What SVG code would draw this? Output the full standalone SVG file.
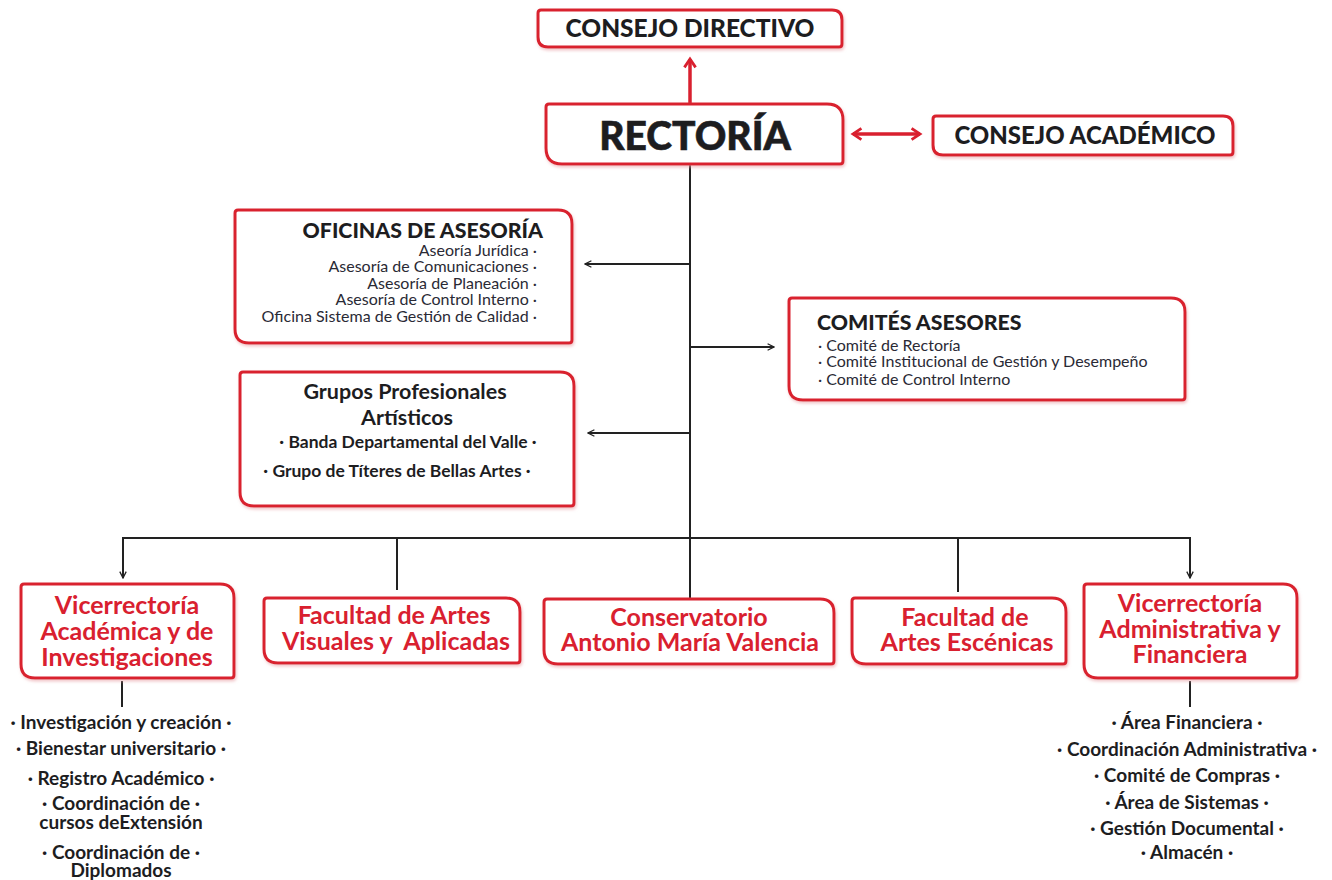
<svg xmlns="http://www.w3.org/2000/svg" width="1332" height="880" viewBox="0 0 1332 880">
<style>
.box{fill:#fff;stroke:#d9202f;stroke-width:3;filter:url(#sh)}
.t{font-family:Lato,"Liberation Sans",sans-serif;font-weight:700;fill:#1d1d1f}
.h{font-family:Lato,"Liberation Sans",sans-serif;font-weight:900;fill:#1d1d1f}
.r{font-family:Lato,"Liberation Sans",sans-serif;font-weight:700;fill:#d9202f;font-size:25px;text-anchor:middle}
.s{font-family:Lato,"Liberation Sans",sans-serif;font-weight:400;fill:#2a2a35;font-size:16px}
.l{font-family:Lato,"Liberation Sans",sans-serif;font-weight:700;fill:#1d1d1f;font-size:19px;text-anchor:middle}
.k{fill:none;stroke:#222;stroke-width:2}
.rd{fill:none;stroke:#d9202f;stroke-width:3.5}
</style>
<defs>
<filter id="sh" x="-5%" y="-10%" width="110%" height="125%">
<feDropShadow dx="1" dy="2" stdDeviation="1.5" flood-color="#e8a0a6" flood-opacity="0.6"/>
</filter>
<marker id="ak" viewBox="0 0 10 10" refX="9" refY="5" markerWidth="8" markerHeight="8" markerUnits="userSpaceOnUse" orient="auto-start-reverse">
<path d="M1,1 L9,5 L1,9" fill="none" stroke="#222" stroke-width="1.6"/>
</marker>
<marker id="ar" viewBox="0 0 10 10" refX="8" refY="5" markerWidth="14" markerHeight="14" markerUnits="userSpaceOnUse" orient="auto-start-reverse">
<path d="M2,1 L8,5 L2,9" fill="none" stroke="#d9202f" stroke-width="2"/>
</marker>
</defs>
<rect width="1332" height="880" fill="#fff"/>

<g id="connectors">
<line class="rd" x1="690" y1="103" x2="690" y2="59" marker-end="url(#ar)"/>
<line class="rd" x1="853" y1="134" x2="920" y2="134" marker-start="url(#ar)" marker-end="url(#ar)"/>
<line class="k" x1="690" y1="165" x2="690" y2="598"/>
<line class="k" x1="690" y1="264" x2="585" y2="264" marker-end="url(#ak)"/>
<line class="k" x1="690" y1="347" x2="774" y2="347" marker-end="url(#ak)"/>
<line class="k" x1="690" y1="433" x2="588" y2="433" marker-end="url(#ak)"/>
<polyline class="k" points="123,577 123,538 1190,538 1190,577"/>
<line class="k" x1="123" y1="570" x2="123" y2="578" marker-end="url(#ak)"/>
<line class="k" x1="1190" y1="570" x2="1190" y2="578" marker-end="url(#ak)"/>
<line class="k" x1="397" y1="538" x2="397" y2="590"/>
<line class="k" x1="958" y1="538" x2="958" y2="592"/>
<line class="k" x1="122" y1="681" x2="122" y2="707"/>
<line class="k" x1="1190" y1="681" x2="1190" y2="707"/>
</g>

<g id="consejo-directivo">
<path class="box" d="M541,10 H832 Q842,10 842,20 V44 Q842,47 839,47 H548 Q538,47 538,37 V13 Q538,10 541,10 Z"/>
<text class="h" x="690" y="37" font-size="24.5" text-anchor="middle">CONSEJO DIRECTIVO</text>
</g>

<g id="rectoria">
<path class="box" d="M549,104 H827 Q843,104 843,120 V161 Q843,164 840,164 H562 Q546,164 546,148 V107 Q546,104 549,104 Z"/>
<text class="h" x="695" y="150" font-size="39" text-anchor="middle" stroke="#1d1d1f" stroke-width="0.6">RECTORÍA</text>
</g>

<g id="consejo-academico">
<path class="box" d="M936,116 H1223 Q1233,116 1233,126 V152 Q1233,155 1230,155 H943 Q933,155 933,145 V119 Q933,116 936,116 Z"/>
<text class="h" x="1085" y="144" font-size="24" text-anchor="middle">CONSEJO ACADÉMICO</text>
</g>

<g id="oficinas-asesoria">
<path class="box" d="M238,210 H558 Q572,210 572,224 V340 Q572,343 569,343 H249 Q235,343 235,329 V213 Q235,210 238,210 Z"/>
<text class="h" x="543" y="238" font-size="21.3" text-anchor="end">OFICINAS DE ASESORÍA</text>
<g class="s" text-anchor="end">
<text x="537" y="256">Aseoría Jurídica ·</text>
<text x="537" y="272">Asesoría de Comunicaciones ·</text>
<text x="537" y="289">Asesoría de Planeación ·</text>
<text x="537" y="305">Asesoría de Control Interno ·</text>
<text x="537" y="322">Oficina Sistema de Gestión de Calidad ·</text>
</g>
</g>

<g id="comites-asesores">
<path class="box" d="M792,298 H1171 Q1185,298 1185,312 V397 Q1185,400 1182,400 H803 Q789,400 789,386 V301 Q789,298 792,298 Z"/>
<text class="h" x="817" y="330" font-size="21.3">COMITÉS ASESORES</text>
<g class="s">
<text x="818" y="351">· Comité de Rectoría</text>
<text x="818" y="367">· Comité Institucional de Gestión y Desempeño</text>
<text x="818" y="385">· Comité de Control Interno</text>
</g>
</g>

<g id="grupos-profesionales">
<path class="box" d="M243,372 H560 Q574,372 574,386 V503 Q574,506 571,506 H254 Q240,506 240,492 V375 Q240,372 243,372 Z"/>
<text class="t" x="405" y="399" font-size="21.5" text-anchor="middle">Grupos Profesionales</text>
<text class="t" x="407" y="425" font-size="21.5" text-anchor="middle">Artísticos</text>
<text class="t" x="408" y="448" font-size="17.5" text-anchor="middle">·  Banda Departamental del Valle  ·</text>
<text class="t" x="397" y="477" font-size="17.5" text-anchor="middle">·  Grupo de Títeres de Bellas Artes  ·</text>
</g>

<g id="vicerrectoria-academica">
<path class="box" d="M24,584 H220 Q234,584 234,598 V675 Q234,678 231,678 H35 Q21,678 21,664 V587 Q21,584 24,584 Z"/>
<text class="r" x="127" y="614">Vicerrectoría</text>
<text class="r" x="127" y="640">Académica y de</text>
<text class="r" x="127" y="666">Investigaciones</text>
</g>

<g id="facultad-artes-visuales">
<path class="box" d="M267,598 H506 Q520,598 520,612 V660 Q520,663 517,663 H278 Q264,663 264,649 V601 Q264,598 267,598 Z"/>
<text class="r" x="394" y="624">Facultad de Artes</text>
<text class="r" x="396" y="650" xml:space="preserve">Visuales y  Aplicadas</text>
</g>

<g id="conservatorio">
<path class="box" d="M547,599 H820 Q834,599 834,613 V661 Q834,664 831,664 H558 Q544,664 544,650 V602 Q544,599 547,599 Z"/>
<text class="r" x="689" y="626">Conservatorio</text>
<text class="r" x="690" y="651">Antonio María Valencia</text>
</g>

<g id="facultad-artes-escenicas">
<path class="box" d="M855,598 H1052 Q1066,598 1066,612 V661 Q1066,664 1063,664 H866 Q852,664 852,650 V601 Q852,598 855,598 Z"/>
<text class="r" x="965" y="626">Facultad de</text>
<text class="r" x="967" y="651">Artes Escénicas</text>
</g>

<g id="vicerrectoria-administrativa">
<path class="box" d="M1087,584 H1283 Q1297,584 1297,598 V675 Q1297,678 1294,678 H1098 Q1084,678 1084,664 V587 Q1084,584 1087,584 Z"/>
<text class="r" x="1190" y="612">Vicerrectoría</text>
<text class="r" x="1190" y="638">Administrativa y</text>
<text class="r" x="1190" y="663">Financiera</text>
</g>

<g id="lista-academica" class="l">
<text x="121" y="729">· Investigación y creación ·</text>
<text x="121" y="755">· Bienestar universitario ·</text>
<text x="121" y="785">· Registro Académico ·</text>
<text x="121" y="810">· Coordinación de ·</text>
<text x="121" y="829">cursos deExtensión</text>
<text x="121" y="859">· Coordinación de ·</text>
<text x="121" y="877">Diplomados</text>
</g>

<g id="lista-administrativa" class="l">
<text x="1187" y="729">· Área Financiera ·</text>
<text x="1187" y="756">· Coordinación Administrativa ·</text>
<text x="1187" y="782">· Comité de Compras ·</text>
<text x="1187" y="809">· Área de Sistemas ·</text>
<text x="1187" y="835">· Gestión Documental ·</text>
<text x="1187" y="859">· Almacén ·</text>
</g>
</svg>
